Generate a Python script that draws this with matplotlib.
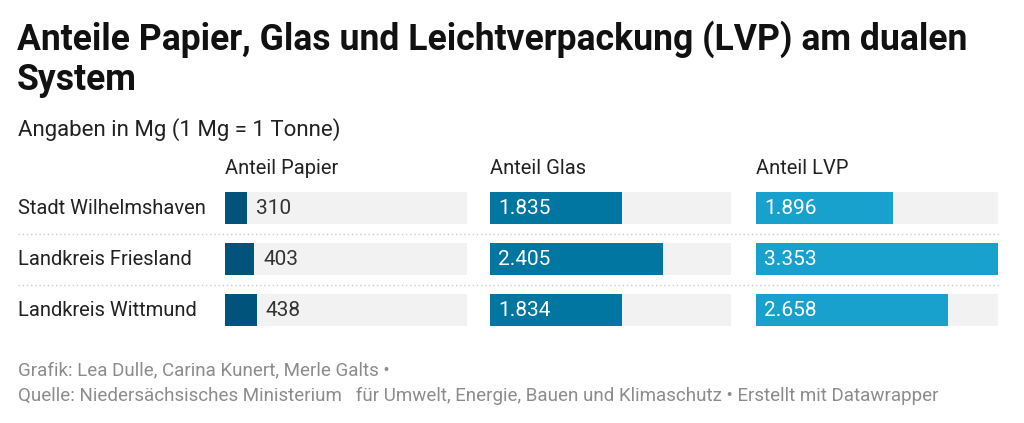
import numpy as np
import matplotlib.pyplot as plt
from matplotlib.transforms import blended_transform_factory
from matplotlib.lines import Line2D

plt.rcParams['font.family'] = ['Roboto', 'DejaVu Sans']

# Daten (Mg)
regionen = ["Stadt Wilhelmshaven", "Landkreis Friesland", "Landkreis Wittmund"]
spalten = ["Anteil Papier", "Anteil Glas", "Anteil LVP"]
papier = [310, 403, 438]
glas = [1835, 2405, 1834]
lvp = [1896, 3353, 2658]
werte = [papier, glas, lvp]
farben = ["#00537a", "#0076a0", "#18a1cd"]

def fmt(v):
    return f"{v:,}".replace(",", ".")

W, H = 1024, 423
fig = plt.figure(figsize=(W / 100, H / 100), dpi=100)
fig.patch.set_facecolor("white")

# Titel, Untertitel
fig.text(17 / W, 1 - 20 / H, "Anteile Papier, Glas und Leichtverpackung (LVP) am dualen\nSystem",
         fontsize=25.6, fontweight="bold", color="#111111", va="top", ha="left", linespacing=1.15)
fig.text(18 / W, 1 - 130 / H, "Angaben in Mg (1 Mg = 1 Tonne)", fontsize=16,
         color="#222222", va="center", ha="left")

vmax = max(max(s) for s in werte)
panel_x = [(225, 467), (490, 731), (756, 998)]
top, bottom = 182.5, 335.5
n = len(regionen)
y = np.arange(n)

axes = []
for k, (x0, x1) in enumerate(panel_x):
    ax = fig.add_axes([x0 / W, 1 - bottom / H, (x1 - x0) / W, (bottom - top) / H])
    ax.set_xlim(0, vmax)
    ax.set_ylim(n - 0.5, -0.5)
    ax.axis("off")
    ax.barh(y, [vmax] * n, height=0.63, color="#f2f2f2")
    ax.barh(y, werte[k], height=0.63, color=farben[k])
    for i, v in enumerate(werte[k]):
        if k == 0:
            ax.annotate(fmt(v), xy=(v, i), xytext=(6.5, 0), textcoords="offset points",
                        va="center", ha="left", fontsize=15, color="#333333")
        else:
            ax.annotate(fmt(v), xy=(0, i), xytext=(6, 0), textcoords="offset points",
                        va="center", ha="left", fontsize=15, color="white")
    ax.annotate(spalten[k], xy=(0, 1), xycoords="axes fraction", xytext=(0, 3),
                textcoords="offset points", va="bottom", ha="left",
                fontsize=14.5, color="#222222")
    axes.append(ax)

# Zeilenbeschriftungen und Trennlinien
tr = blended_transform_factory(fig.transFigure, axes[0].transData)
for i, r in enumerate(regionen):
    fig.text(18 / W, i, r, transform=tr, va="center", ha="left", fontsize=14.5, color="#222222")
for i in range(n - 1):
    fig.add_artist(Line2D([18 / W, 1000 / W], [i + 0.5, i + 0.5], transform=tr,
                          color="#cccccc", lw=1, linestyle=(0, (1, 2))))

# Fußzeile
fig.text(18 / W, 1 - 370 / H, "Grafik: Lea Dulle, Carina Kunert, Merle Galts \u2022",
         fontsize=13.5, color="#8c8c8c", va="center", ha="left")
fig.text(18 / W, 1 - 396 / H,
         "Quelle: Niedersächsisches Ministerium   für Umwelt, Energie, Bauen und Klimaschutz \u2022 Erstellt mit Datawrapper",
         fontsize=13.5, color="#8c8c8c", va="center", ha="left")

fig.savefig("out.png", dpi=100)
